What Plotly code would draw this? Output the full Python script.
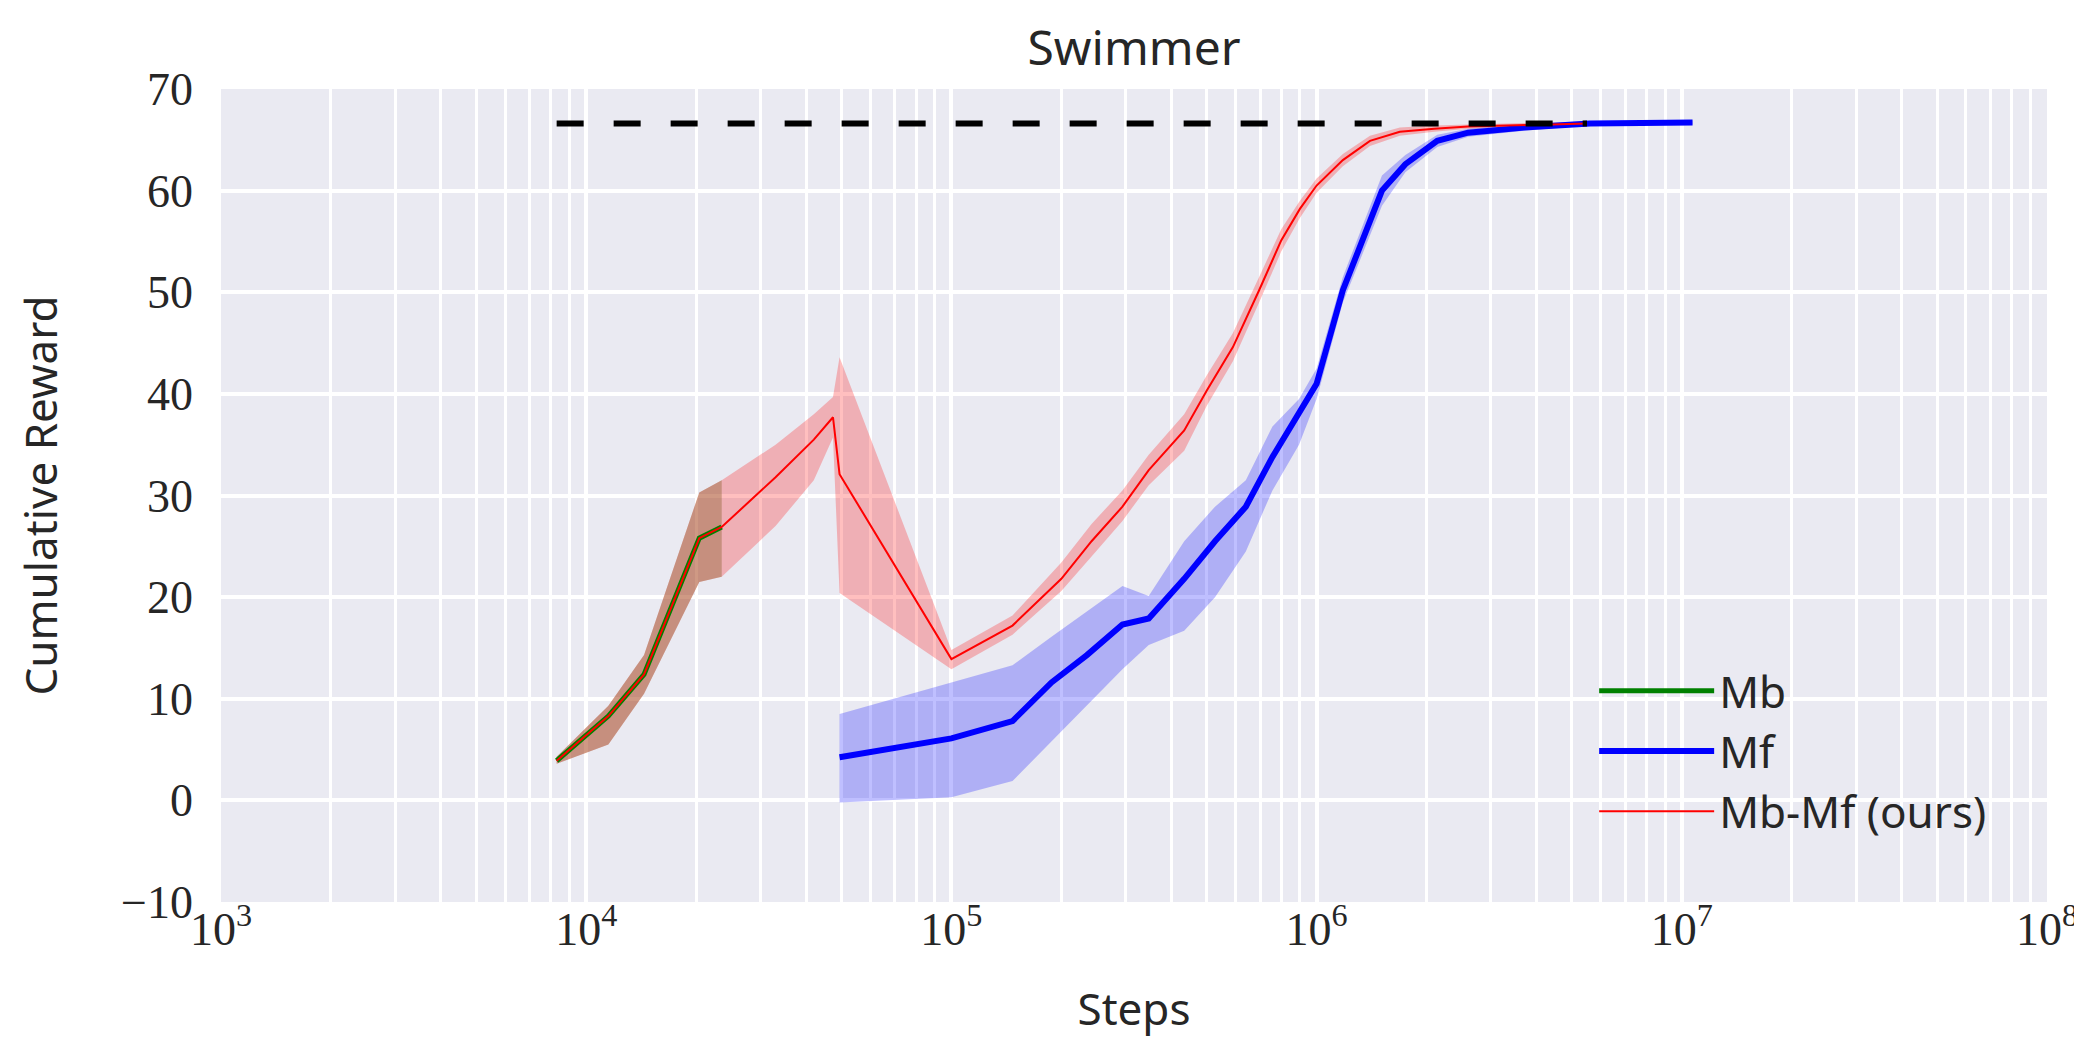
import plotly.graph_objects as go

# ---------------- data ----------------
mb_steps = [8.3e3, 1.15e4, 1.44e4, 2.04e4, 2.35e4]
mb_mean = [3.9, 8.3, 12.4, 25.8, 26.9]
mb_low = [3.6, 5.5, 10.5, 21.5, 22.0]
mb_high = [4.3, 9.3, 14.3, 30.3, 31.5]

mbmf_steps = [8.3e3, 1.15e4, 1.44e4, 2.04e4, 2.35e4, 3.3e4, 4.2e4, 4.74e4, 4.94e4,
              1e5, 1.47e5, 2e5, 2.42e5, 2.94e5, 3.47e5, 4.34e5, 5e5, 5.9e5, 6.96e5,
              8e5, 9e5, 1e6, 1.18e6, 1.4e6, 1.69e6, 2.1e6, 2.6e6, 3.5e6, 4.5e6, 5.5e6]
mbmf_mean = [3.9, 8.3, 12.4, 25.8, 26.9, 31.8, 35.5, 37.7, 32.1,
             13.9, 17.2, 21.8, 25.5, 28.9, 32.5, 36.4, 40.3, 44.6, 50.2,
             55.1, 58.2, 60.5, 63.0, 64.9, 65.8, 66.1, 66.3, 66.4, 66.5, 66.6]
mbmf_low = [3.6, 5.5, 10.5, 21.5, 22.0, 27.0, 31.5, 35.7, 20.4,
            12.9, 16.3, 20.6, 24.0, 27.5, 31.0, 34.4, 38.8, 43.2, 49.0,
            54.0, 57.3, 59.8, 62.4, 64.4, 65.4, 65.8, 66.1, 66.2, 66.3, 66.4]
mbmf_high = [4.3, 9.3, 14.3, 30.3, 31.5, 35.0, 38.0, 39.7, 43.6,
             14.8, 18.2, 23.4, 27.2, 30.5, 34.0, 38.0, 41.8, 46.0, 51.5,
             56.2, 59.0, 61.2, 63.6, 65.4, 66.2, 66.4, 66.5, 66.6, 66.7, 66.8]

mf_steps = [4.94e4, 1e5, 1.47e5, 1.88e5, 2.35e5, 2.94e5, 3.47e5, 4.34e5, 5.27e5,
            6.4e5, 7.57e5, 8.95e5, 1e6, 1.18e6, 1.51e6, 1.75e6, 2.14e6, 2.6e6,
            3.7e6, 5.6e6, 1.07e7]
mf_mean = [4.25, 6.1, 7.8, 11.6, 14.3, 17.3, 17.9, 21.8, 25.5,
           28.9, 33.8, 38.0, 41.0, 50.2, 60.0, 62.6, 64.9, 65.7,
           66.2, 66.6, 66.7]
mf_low = [-0.2, 0.3, 1.9, 5.8, 9.4, 12.9, 15.3, 16.7, 20.0,
          24.5, 30.5, 35.0, 39.5, 49.0, 58.5, 61.8, 64.3, 65.3,
          65.9, 66.4, 66.5]
mf_high = [8.5, 11.6, 13.3, 16.1, 18.6, 21.1, 20.1, 25.5, 28.9,
           31.5, 36.8, 39.5, 42.5, 51.5, 61.5, 63.5, 65.5, 66.1,
           66.5, 66.8, 66.9]

opt_steps = [8.3e3, 5.5e6]
opt_value = [66.6, 66.6]

x_tickvals = [1e3, 1e4, 1e5, 1e6, 1e7, 1e8]
x_ticktext = ["10<sup>3</sup>", "10<sup>4</sup>", "10<sup>5</sup>",
              "10<sup>6</sup>", "10<sup>7</sup>", "10<sup>8</sup>"]
y_tickvals = [-10, 0, 10, 20, 30, 40, 50, 60, 70]

# ---------------- figure ----------------
fig = go.Figure()


def band(xs, lo, hi, color):
    fig.add_trace(go.Scatter(x=xs, y=hi, mode="lines", line=dict(width=0),
                             showlegend=False, hoverinfo="skip"))
    fig.add_trace(go.Scatter(x=xs, y=lo, mode="lines", line=dict(width=0),
                             fill="tonexty", fillcolor=color,
                             showlegend=False, hoverinfo="skip"))


band(mbmf_steps, mbmf_low, mbmf_high, "rgba(255,0,0,0.25)")
band(mb_steps, mb_low, mb_high, "rgba(140,100,50,0.42)")
band(mf_steps, mf_low, mf_high, "rgba(0,0,255,0.25)")

fig.add_trace(go.Scatter(x=mb_steps, y=mb_mean, mode="lines", name="Mb",
                         legendgroup="g1",
                         line=dict(color="rgb(0,128,0)", width=5)))
fig.add_trace(go.Scatter(x=mf_steps, y=mf_mean, mode="lines", name="Mf",
                         legendgroup="g2",
                         line=dict(color="rgb(0,0,255)", width=6)))
fig.add_trace(go.Scatter(x=mbmf_steps, y=mbmf_mean, mode="lines", name="Mb-Mf (ours)",
                         legendgroup="g3",
                         line=dict(color="rgb(255,0,0)", width=2)))
fig.add_trace(go.Scatter(x=opt_steps, y=opt_value, mode="lines", showlegend=False,
                         line=dict(color="black", width=6, dash="27px,30px")))

serif = "Liberation Serif, DejaVu Serif, serif"
sans = "Noto Sans, DejaVu Sans, sans-serif"

fig.update_layout(
    width=2082, height=1041,
    margin=dict(l=213, r=33, t=81, b=147),
    paper_bgcolor="white",
    plot_bgcolor="#EAEAF2",
    title=dict(text="Swimmer", xref="paper", x=0.5, xanchor="center",
               y=0.978, yanchor="top",
               font=dict(family=sans, size=48, color="#262626")),
    showlegend=True,
    legend=dict(x=0.752, xanchor="left", y=0.303, yanchor="top",
                traceorder="normal",
                bgcolor="rgba(0,0,0,0)", font=dict(family=sans, size=44, color="#262626"),
                itemwidth=115, tracegroupgap=10),
    xaxis=dict(type="log", range=[3, 8], tickvals=x_tickvals, ticktext=x_ticktext,
               showgrid=True, gridcolor="white", gridwidth=4,
               minor=dict(showgrid=True, gridcolor="white", gridwidth=3, dtick="D1"),
               zeroline=False, showline=False, ticks="",
               ticklabelstandoff=-4,
               tickfont=dict(family=serif, size=46, color="#262626"),
               title=dict(text="Steps", font=dict(family=sans, size=44, color="#262626"),
                          standoff=40)),
    yaxis=dict(range=[-10, 70], tickvals=y_tickvals,
               showgrid=True, gridcolor="white", gridwidth=4,
               zeroline=False, showline=False, ticks="",
               ticklabelstandoff=27,
               tickfont=dict(family=serif, size=46, color="#262626"),
               title=dict(text="Cumulative Reward", font=dict(family=sans, size=44, color="#262626"),
                          standoff=49)),
)

fig.write_html("out.html")
